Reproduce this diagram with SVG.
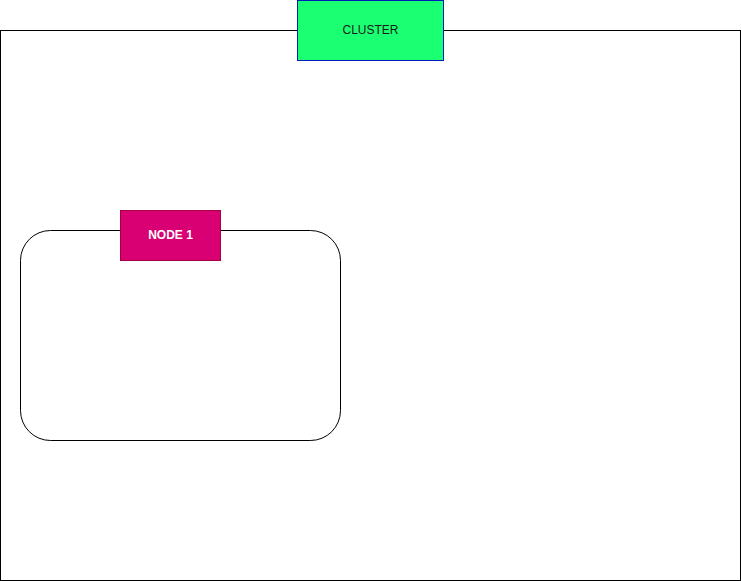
<svg xmlns="http://www.w3.org/2000/svg" width="741" height="581" viewBox="0 0 741 581">
<style>
.lbl{font-family:"Liberation Sans",Arial,sans-serif;font-size:12px;text-anchor:middle;dominant-baseline:central}
</style>
<rect width="741" height="581" fill="#ffffff"/>
<g id="cluster">
<rect x="0.5" y="30.5" width="740" height="550" fill="none" stroke="#000000"/>
<rect x="297.5" y="0.5" width="146" height="60" fill="#1bff72" stroke="#001dbc"/>
<text class="lbl" x="370.5" y="29.5" fill="#1a1a1a">CLUSTER</text>
</g>
<g id="node1">
<rect x="20.5" y="230.5" width="320" height="210" rx="30" ry="30" fill="none" stroke="#000000"/>
<rect x="120.5" y="210.5" width="100" height="50" fill="#d80073" stroke="#a50040"/>
<text class="lbl" x="170.5" y="234.5" fill="#ffffff" font-weight="bold">NODE 1</text>
</g>
<g id="connectors"/>
</svg>
